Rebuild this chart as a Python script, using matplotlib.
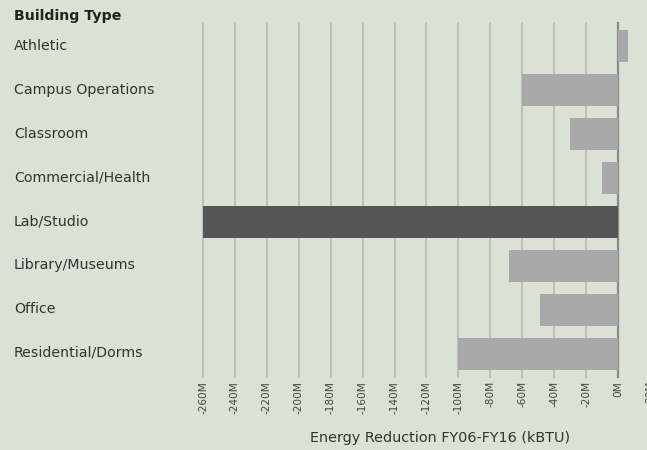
import matplotlib
matplotlib.use("Agg")
import matplotlib.pyplot as plt
import numpy as np

categories = ["Athletic", "Campus Operations", "Classroom", "Commercial/Health",
              "Lab/Studio", "Library/Museums", "Office", "Residential/Dorms"]
values_m = [6, -60, -30, -10, -260, -68, -49, -100]  # millions kBTU
highlight = "Lab/Studio"
tick_values = list(range(-260, 21, 20))
tick_labels = [f"{v}M" for v in tick_values]

BG = "#dce1d6"
W, H = 647, 450
fig = plt.figure(figsize=(W / 100, H / 100), dpi=100, facecolor=BG)

# axes in pixel coordinates
px_per_m = (618 - 203) / 260.0
left_px = 196
right_px = 660
x_left = -260 - (203 - left_px) / px_per_m
x_right = (right_px - 618) / px_per_m
top_px, bot_px = 22, 378
ax = fig.add_axes([left_px / W, 1 - bot_px / H, (right_px - left_px) / W, (bot_px - top_px) / H])
ax.set_facecolor(BG)
ax.set_xlim(x_left, x_right)
ax.set_ylim(len(categories) - 0.45, -0.55)

for v in tick_values:
    ax.axvline(v, color="#888a85" if v == 0 else "#b9bdb4", lw=1.6 if v == 0 else 1.3, zorder=1)

y = np.arange(len(categories))
colors = ["#555555" if c == highlight else "#a9a9a9" for c in categories]
ax.barh(y, values_m, height=0.74, color=colors, zorder=2)

for s in ax.spines.values():
    s.set_visible(False)
ax.set_yticks([])
ax.set_xticks(tick_values)
ax.set_xticklabels(tick_labels, rotation=90, fontsize=7.6, color="#444444")
ax.tick_params(axis="x", length=0, pad=2)

for i, c in enumerate(categories):
    fig.text(14 / W, 1 - (46 + i * 43.8) / H, c, ha="left", va="center",
             fontsize=10.2, color="#333333")
fig.text(14 / W, 1 - 16 / H, "Building Type", ha="left", va="center",
         fontsize=10.2, fontweight="bold", color="#222222")
fig.text(440 / W, 1 - 438 / H, "Energy Reduction FY06-FY16 (kBTU)", ha="center",
         va="center", fontsize=10.4, color="#333333")

fig.savefig("out.png", dpi=100, facecolor=BG)
